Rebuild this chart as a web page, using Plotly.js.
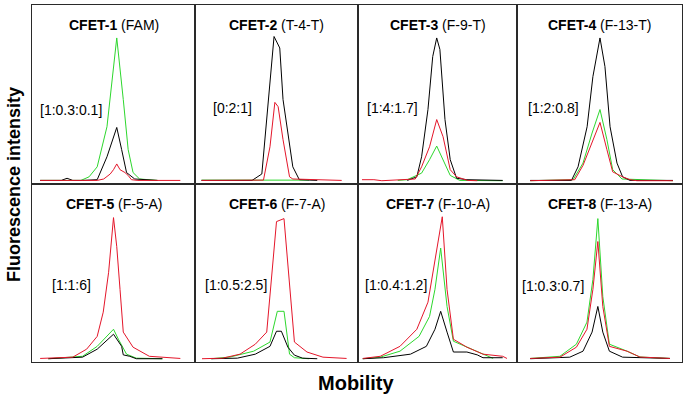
<!DOCTYPE html>
<html>
<head>
<meta charset="utf-8">
<script src="https://cdn.plot.ly/plotly-3.0.1.min.js"></script>
<style>html,body{margin:0;padding:0;background:#fff;}#chart{width:685px;height:401px;}</style>
</head>
<body>
<div id="chart"></div>
<script>
// ---- Data (mobility in arbitrary units 0-100, intensity in arbitrary units) ----
const panelNames = ['CFET-1','CFET-2','CFET-3','CFET-4','CFET-5','CFET-6','CFET-7','CFET-8'];
const panelDyes  = ['(FAM)','(T-4-T)','(F-9-T)','(F-13-T)','(F-5-A)','(F-7-A)','(F-10-A)','(F-13-A)'];
const ratioLabels = ['[1:0.3:0.1]','[0:2:1]','[1:4:1.7]','[1:2:0.8]','[1:1:6]','[1:0.5:2.5]','[1:0.4:1.2]','[1:0.3:0.7]'];

// CFET-1
const c1_green_x = [5, 30, 35, 40, 46, 50, 52, 56, 59, 62, 66, 77];
const c1_green_y = [0.5, 0.5, 3, 10, 38, 80, 100, 57, 22, 6, 1.5, 0.5];
const c1_black_x = [5, 18, 21.5, 25, 31, 40, 46, 50, 52, 55, 58, 63, 77];
const c1_black_y = [0.5, 0.5, 2, 0.5, 0.5, 1, 17, 31, 37.5, 22, 6, 1.5, 0.5];
const c1_red_x   = [5, 40, 44, 48, 50, 52, 54, 57, 59, 61, 65, 91];
const c1_red_y   = [0.5, 0.5, 1.5, 5, 8, 12, 8, 6, 4, 1, 0.5, 0.5];
// CFET-2
const c2_green_x = [4, 70];
const c2_green_y = [0.7, 0.7];
const c2_black_x = [4, 35, 41, 48.5, 52, 54, 60, 64, 75];
const c2_black_y = [0.5, 0.5, 5, 101, 93, 57, 10, 1, 0.5];
const c2_red_x   = [4, 42, 46, 49, 51, 54, 58, 60, 90];
const c2_red_y   = [0.5, 0.7, 24, 55, 52, 29, 3, 1.5, 0.5];
// CFET-3
const c3_green_x = [25, 31, 40, 45, 49.5, 53.5, 58, 64, 91];
const c3_green_y = [0.5, 1, 5.6, 15, 24.5, 15, 4, 0.5, 0.3];
const c3_black_x = [31, 37, 40, 44, 47, 49.5, 51.5, 54.7, 58, 62, 68.5, 91];
const c3_black_y = [0.5, 3, 17, 50, 87, 100, 92, 43, 15, 2, 1, 0.5];
const c3_red_x   = [2.5, 10, 15, 36, 40, 45, 49.5, 53.5, 58, 62, 69, 75];
const c3_red_y   = [1, 1, 0.3, 1.5, 10, 24, 43, 31, 8, 3, 0.5, 0.3];
// CFET-4
const c4_green_x = [8, 34, 40, 45.5, 50.3, 54.5, 58, 63.6, 94.5];
const c4_green_y = [0.3, 1, 12.6, 33.6, 50, 29, 8, 1.5, 0.3];
const c4_black_x = [8, 33, 37, 42.5, 46, 50.3, 53.3, 56.4, 60.6, 64, 68.5, 94.5];
const c4_black_y = [0.5, 0.5, 10, 38, 73, 100, 80, 38, 12.6, 3, 0.5, 0.5];
const c4_red_x   = [8, 35, 40, 45.5, 50.3, 54.5, 58, 64, 68.5, 72.7, 94.5];
const c4_red_y   = [0.3, 1, 11, 26.6, 41, 22, 6.5, 3, 1, 0.3, 0.3];
// CFET-5
const c5_green_x = [10, 31, 40, 50, 53, 56, 58, 64, 80];
const c5_green_y = [0.3, 2, 9, 21, 14, 7, 3.5, 0.7, 0.3];
const c5_black_x = [10, 31, 40, 50, 55, 56, 60, 64, 80];
const c5_black_y = [0.3, 1.4, 7, 17.5, 9, 3, 2, 0.3, 0.3];
const c5_red_x   = [5, 25, 33.5, 40, 43.7, 47, 50, 52, 54, 56, 62, 72, 91];
const c5_red_y   = [0.5, 1.4, 7, 16, 33, 61, 99.4, 79, 49, 19, 8.4, 2, 0.5];
// CFET-6
const c6_green_x = [10, 21.5, 36, 46, 50.5, 54.6, 58, 61, 70];
const c6_green_y = [0.3, 1.5, 5.6, 12, 33.6, 33.6, 3.5, 1, 0.3];
const c6_black_x = [10, 26, 37, 46, 50, 53, 57, 61, 66, 75];
const c6_black_y = [0.3, 0.7, 3.5, 9, 19.6, 19.6, 8.4, 2.8, 0.7, 0.3];
const c6_red_x   = [4.3, 17, 27.6, 37, 44, 50, 54.6, 61, 68.7, 78.5, 93];
const c6_red_y   = [0.3, 0.7, 3.5, 10.5, 19, 96.6, 98.7, 12, 5, 1.4, 0.5];
// CFET-7
const c7_green_x = [3, 14, 26.4, 38.4, 45, 48.4, 52, 56, 60, 78.6, 85];
const c7_green_y = [0.3, 1.4, 5.6, 16, 30, 49, 78, 37, 12.6, 3.5, 0.5];
const c7_black_x = [3, 16, 33, 43, 48.4, 52, 56, 60, 68.5, 75, 78.6, 91];
const c7_black_y = [0.3, 1, 3.5, 9, 21, 33.6, 19, 5, 5, 3, 1, 1];
const c7_red_x   = [3, 14, 26.4, 37, 44, 48.4, 53, 56, 60, 68.5, 78.6, 91, 93.7];
const c7_red_y   = [0.5, 2, 9, 21, 40, 68.6, 100, 49, 14, 8.4, 3.5, 2, 0.5];
// CFET-8
const c8_green_x = [8, 26, 36, 42.4, 46, 49, 52, 56, 66.7, 74.5, 92.7];
const c8_green_y = [0.5, 2, 10.5, 26, 56, 98.7, 44, 10.5, 5.6, 1.5, 0.5];
const c8_black_x = [8, 32, 40, 45.5, 49, 52, 56, 64, 92.7];
const c8_black_y = [0.3, 1.4, 5.6, 19, 37, 19, 5.6, 1.4, 0.5];
const c8_red_x   = [8, 26, 36, 42.4, 46, 49, 52, 56, 66.7, 74.5, 92.7];
const c8_red_y   = [0.5, 1.4, 8.4, 21, 49, 82.6, 37, 9, 5.6, 1.5, 0.5];

const seriesByPanel = [
  [[c1_green_x,c1_green_y],[c1_black_x,c1_black_y],[c1_red_x,c1_red_y]],
  [[c2_green_x,c2_green_y],[c2_black_x,c2_black_y],[c2_red_x,c2_red_y]],
  [[c3_green_x,c3_green_y],[c3_black_x,c3_black_y],[c3_red_x,c3_red_y]],
  [[c4_green_x,c4_green_y],[c4_black_x,c4_black_y],[c4_red_x,c4_red_y]],
  [[c5_green_x,c5_green_y],[c5_black_x,c5_black_y],[c5_red_x,c5_red_y]],
  [[c6_green_x,c6_green_y],[c6_black_x,c6_black_y],[c6_red_x,c6_red_y]],
  [[c7_green_x,c7_green_y],[c7_black_x,c7_black_y],[c7_red_x,c7_red_y]],
  [[c8_green_x,c8_green_y],[c8_black_x,c8_black_y],[c8_red_x,c8_red_y]]
];

// ---- Layout / styling ----
const W = 685, H = 401;
const colEdges = [32, 195, 358, 517, 682];
const rowEdges = [5, 184, 362];
const colors = ['rgb(45,215,45)', 'rgb(0,0,0)', 'rgb(228,22,42)'];
const FONT = 'Liberation Sans, Arial, Helvetica, sans-serif';
const ratioPos = [[40,110],[213,108],[367,108],[528,108],[52,285],[205,285],[365,285],[522,286]];

const px = v => v / W;
const py = v => 1 - v / H;

const traces = [];
const layout = {
  width: W, height: H,
  margin: {l:0, r:0, t:0, b:0},
  paper_bgcolor: '#fff', plot_bgcolor: '#fff',
  showlegend: false,
  annotations: []
};

for (let p = 0; p < 8; p++) {
  const r = Math.floor(p / 4), c = p % 4;
  const idx = p === 0 ? '' : String(p + 1);
  const xa = 'xaxis' + idx, ya = 'yaxis' + idx;
  const axCommon = {showline: true, mirror: true, linecolor: '#2a2a2a', linewidth: 1,
    showticklabels: false, ticks: '', showgrid: false, zeroline: false, fixedrange: true};
  layout[xa] = Object.assign({}, axCommon, {domain: [px(colEdges[c]), px(colEdges[c+1])], range: [0, 100], anchor: 'y' + idx});
  layout[ya] = Object.assign({}, axCommon, {domain: [py(rowEdges[r+1]), py(rowEdges[r])], range: [-2, 123], anchor: 'x' + idx});
  seriesByPanel[p].forEach((s, k) => {
    traces.push({x: s[0], y: s[1], type: 'scatter', mode: 'lines',
      xaxis: 'x' + idx, yaxis: 'y' + idx,
      line: {color: colors[k], width: 1}, hoverinfo: 'skip'});
  });
  const cx = (colEdges[c] + colEdges[c+1]) / 2;
  const ty = r === 0 ? 25 : 204;
  layout.annotations.push({xref: 'paper', yref: 'paper', x: px(cx), y: py(ty),
    xanchor: 'center', yanchor: 'middle', showarrow: false,
    text: '<b>' + panelNames[p] + '</b> ' + panelDyes[p],
    font: {family: FONT, size: 14, color: '#000'}});
  layout.annotations.push({xref: 'paper', yref: 'paper', x: px(ratioPos[p][0] - 2), y: py(ratioPos[p][1]),
    xanchor: 'left', yanchor: 'middle', showarrow: false,
    text: ratioLabels[p],
    font: {family: FONT, size: 14, color: '#000'}});
}

layout.annotations.push({xref: 'paper', yref: 'paper', x: px(14), y: py(185),
  xanchor: 'center', yanchor: 'middle', showarrow: false, textangle: -90,
  text: '<b>Fluorescence intensity</b>', font: {family: FONT, size: 18, color: '#000'}});
layout.annotations.push({xref: 'paper', yref: 'paper', x: px(356), y: py(383),
  xanchor: 'center', yanchor: 'middle', showarrow: false,
  text: '<b>Mobility</b>', font: {family: FONT, size: 20, color: '#000'}});

Plotly.newPlot('chart', traces, layout, {staticPlot: true, displayModeBar: false});
</script>
</body>
</html>
